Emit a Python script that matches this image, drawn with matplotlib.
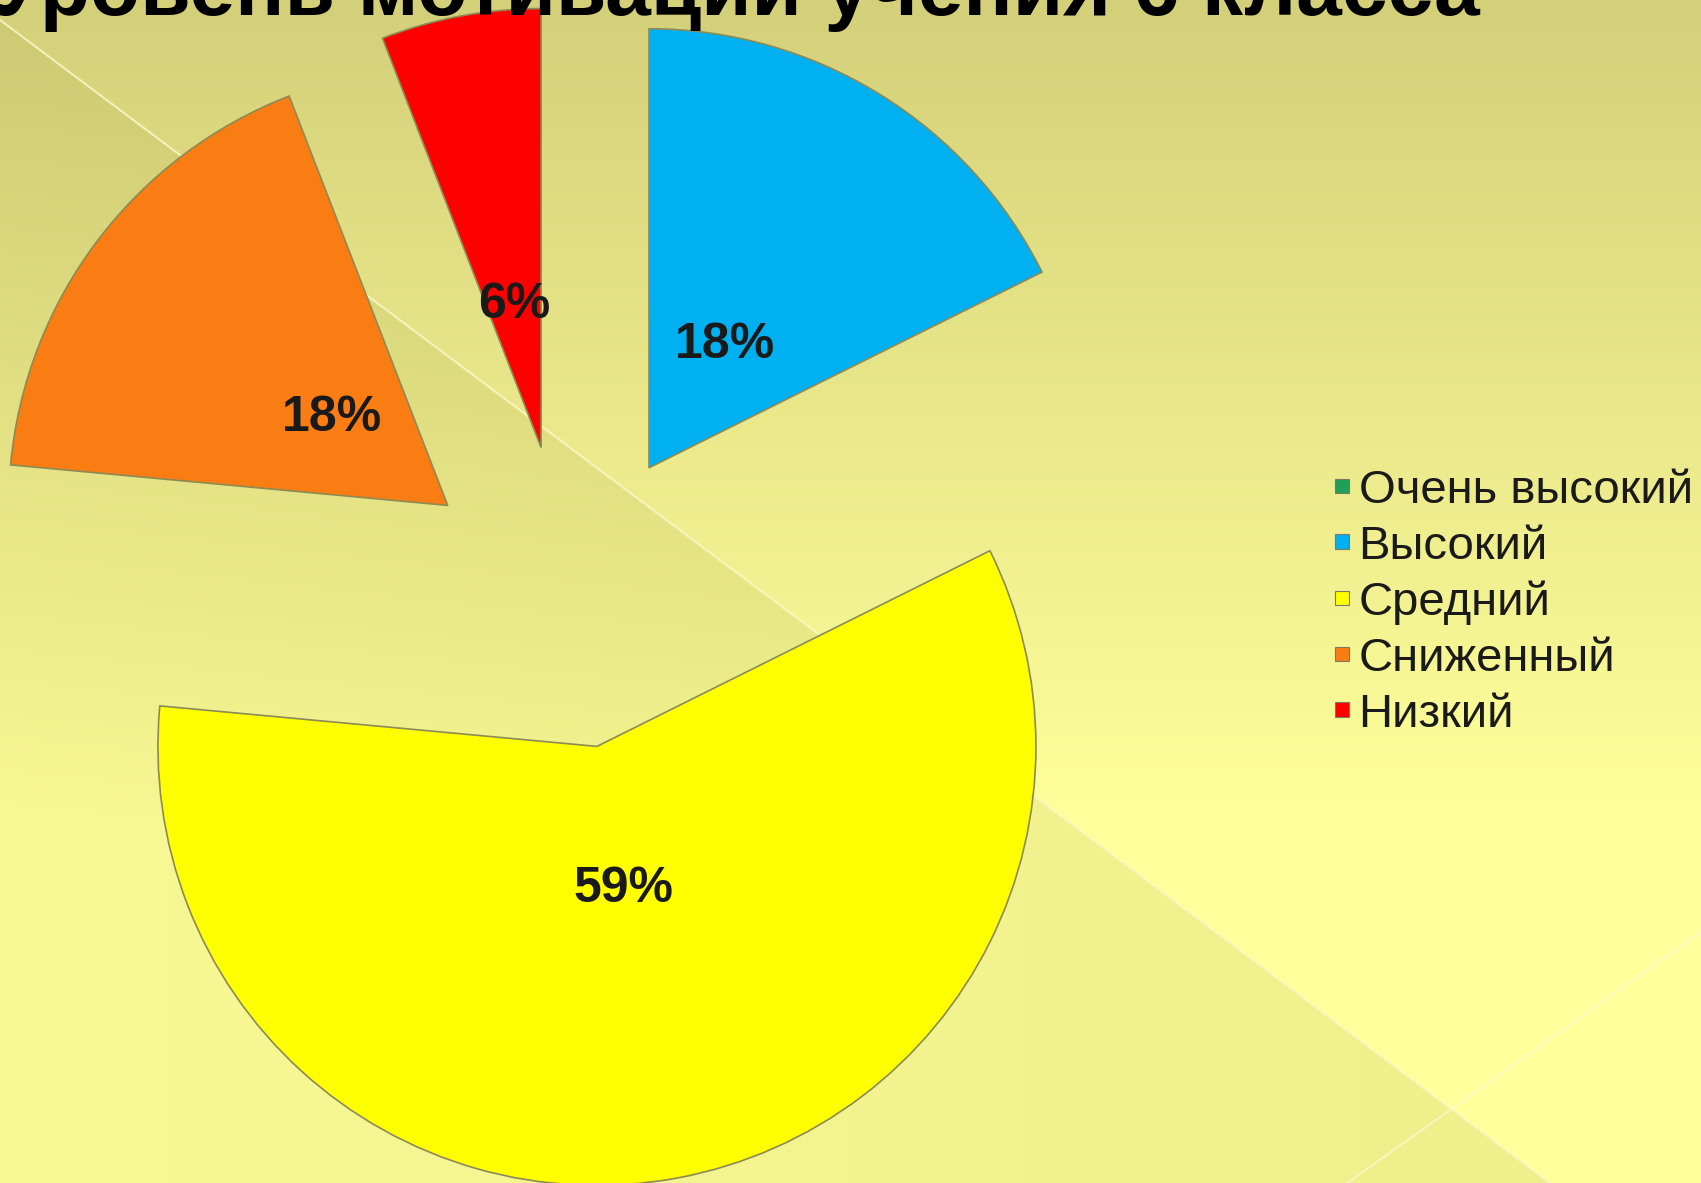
import numpy as np
import matplotlib
matplotlib.use("Agg")
import matplotlib.pyplot as plt

W, H = 1701, 1183

title = "Уровень мотивации учения 6 класса"
levels = ["Очень высокий", "Высокий", "Средний", "Сниженный", "Низкий"]
pupils = [0, 3, 10, 3, 1]
colors = ["#1fa05a", "#00b0f0", "#ffff00", "#fa7d14", "#ff0000"]

R = 439
# pie explode is in data units here (pixels)
explode = [0, 152, 152, 152, 152]


def background():
    yy, xx = np.mgrid[0:H, 0:W].astype(float)
    t = np.clip(yy / 820.0, 0, 1)
    top = np.array([212, 208, 122]) / 255.0
    bot = np.array([255, 255, 155]) / 255.0
    img = top[None, None, :] * (1 - t[..., None]) + bot[None, None, :] * t[..., None]
    # darker triangle below the diagonal
    lower = yy > 20 + 0.75 * xx
    shade = (7 + 10 * xx / W) / 255.0
    img[lower] -= shade[lower][:, None]
    return np.clip(img, 0, 1)


fig = plt.figure(figsize=(W / 100, H / 100), dpi=100)
ax = fig.add_axes([0, 0, 1, 1])
ax.imshow(background(), extent=(0, W, 0, H), origin="upper", aspect="auto", zorder=0)
ax.plot([0, 1550], [H - 20, 0], color="#fbf9c8", lw=1.5, alpha=0.8, zorder=1)
ax.plot([1347, W], [0, H - 932], color="#fbf9c8", lw=1.5, alpha=0.8, zorder=1)

wedges, texts, pcts = ax.pie(
    pupils, colors=colors, explode=explode, startangle=90, counterclock=False,
    center=(569, 586), radius=R, pctdistance=0.33,
    autopct=lambda p: "%.0f%%" % p if p > 0.5 else "",
    wedgeprops=dict(edgecolor="#8c8a55", linewidth=1.2),
    textprops=dict(fontsize=36, fontweight="bold", color="#1a1a1a",
                   family=["Liberation Sans Narrow", "Liberation Sans"]),
)
wedges[0].set_visible(False)
for w in wedges:
    w.set_zorder(2)
for t in pcts:
    t.set_zorder(3)

ax.text(-8, H - 15, title, fontsize=59, fontweight="bold", color="black",
        va="baseline", ha="left",
        family=["Liberation Sans Narrow", "Liberation Sans"], zorder=4)

handles = []
for w in wedges:
    p = matplotlib.patches.Rectangle((0, 0), 1, 1, facecolor=w.get_facecolor(),
                                     edgecolor="#7a7a60", linewidth=0.8)
    handles.append(p)
leg = ax.legend(handles, levels, loc="upper left",
                bbox_to_anchor=(1335 / W, 1 - 469 / H), bbox_transform=fig.transFigure,
                frameon=False, handlelength=0.3, handleheight=0.09,
                handletextpad=0.2, labelspacing=0.25, borderpad=0, borderaxespad=0,
                prop=dict(family="Liberation Sans", size=34))
for t in leg.get_texts():
    t.set_color("#1a1a1a")

ax.set_xlim(0, W)
ax.set_ylim(0, H)
ax.set_aspect("auto")
ax.axis("off")

fig.savefig("out.png", dpi=100)
